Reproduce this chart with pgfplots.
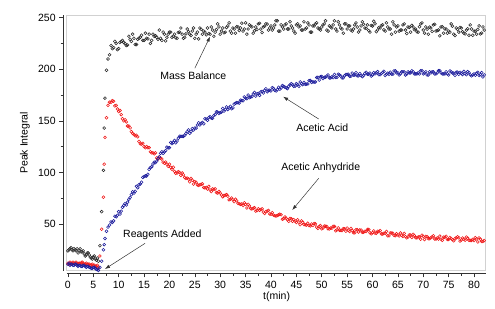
\documentclass[border=0pt]{standalone}
\usepackage{pgfplots}
\pgfplotsset{compat=1.18}
\usepackage{pgfplotstable}
\usepackage{fontspec}
\setmainfont{Liberation Sans}
\usetikzlibrary{arrows.meta}
\definecolor{mbcol}{HTML}{2A2A2A}
\definecolor{aacol}{HTML}{1C1C9C}
\definecolor{ancol}{HTML}{F01818}
\pgfplotstableread{
t mb aa an
0.0 24 11 12
0.4 26 10 13
0.8 25 11 12
1.2 26 10 12
1.6 24 11 13
2.0 22 9 11
2.4 26 10 12
2.8 23 9 13
3.2 21 10 11
3.6 20 8 12
4.0 22 9 11
4.4 18 8 10
4.8 16 7 11
5.2 19 8 10
5.6 15 6 9
6.0 14 5 8
6.3 29 8 19
6.65 62 14 45
7.0 102 25 76
7.15 143 30 108
7.3 172 36 134
7.6 199 43 153
7.9 210 47 165
8.2 214 49 168
8.5 223 52 168
9.0 221 53 169
9.5 225 57 165
10.0 220 62 159
10.5 227 62.5 156
11.0 226 68 150
11.5 223 68.5 149
12.0 232 74 145
12.5 227 78.5 139.5
13.0 230 80 137
13.5 224 86.5 136
14.0 230 88 130
14.5 233 90.5 127.5
15.0 228 96 125
15.5 230 96.5 125
16.0 234 103 124
16.5 228 105.5 119
17.0 232 110 118
17.5 231 111 114
18.0 238 115 115
18.5 228 120 113
19.0 234 120 109
19.5 231 124.5 108
20.0 236 124 108
20.5 231 128 103
21.0 234 131 101
21.5 230 130.5 99.5
22.0 236 135 100
22.5 234 135 99.5
23.0 231 136 95
23.5 239 139.5 94.5
24.0 234 138 91
24.5 237 142.5 92.5
25.0 230 143 91
25.5 236 146 88
26.0 240 146 88
26.5 234 148.5 89
27.0 236 152 85
27.5 240 150.5 84
28.0 234 154 83
28.5 238 152.5 84
29.0 236 156 84
29.5 244 158.5 80
30.0 234 158 80
30.5 240 162 76.5
31.0 236 161 78
31.5 242 161 77
32.0 237 164 74
32.5 240 162.5 73.5
33.0 235 167 74
33.5 241 167.5 70
34.0 240 170 69
34.5 237 169.5 68
35.0 245 172 69
35.5 239 175 69
36.0 242 173 65
36.5 235 176 65.3
37.0 241 174 62.5
37.5 244 176.5 64.7
38.0 239 178 64
38.5 241 177 61.5
39.0 244 181 62
39.5 238 179.5 63.2
40.0 242 179 59.5
40.5 240 181.5 58.6
41.0 247 179 57.7
41.5 237 182.5 58.9
42.0 243 182 59
42.5 239 183.5 55.2
43.0 244 182 55.5
43.5 239 183.5 52.7
44.0 242 186 55
44.5 237 183.5 54.2
45.0 243 186 51.5
45.5 241 183.5 51.8
46.0 238 186 53
46.5 246 187.3 49.5
47.0 240 185.6 49
47.5 243 189 48.5
48.0 236 187.3 50
48.5 242 187.5 50.5
49.0 245 192 47
49.5 239 189.5 47.7
50.0 241 193 45.4
50.5 244 192.2 48
51.0 238 193.4 47.6
51.5 242 191.6 45.3
52.0 240 192.8 46
52.5 247 195 47.6
53.0 237 192.2 44.3
53.5 243 194.4 44
54.0 239 191.6 43.6
54.5 244 193.8 45.3
55.0 239 195 46
55.5 242 193.2 42.8
56.0 237 196.3 43.7
56.5 243 194.5 41.5
57.0 241 193.6 44.4
57.5 238 195.8 44.2
58.0 246 192.9 42
58.5 240 196 42.9
59.0 243 195.2 44.7
59.5 236 196.3 41.6
60.0 242 194.5 41.5
60.5 244 195.6 41.2
61.0 238 197.7 42.9
61.5 240 194.8 43.6
62.0 243 196.9 40.3
62.5 237 194 41
63.0 241 196.1 38.7
63.5 239 197.2 41.4
64.0 246 195.3 41.1
64.5 236 198.4 38.8
65.0 242 196.5 39.5
65.5 238 195.5 41.3
66.0 243 197.5 38
66.5 238 194.5 37.8
67.0 241 197.5 37.5
67.5 236 196.5 39.3
68.0 241 197.5 40
68.5 239 195.5 36.8
69.0 236 196.5 37.5
69.5 244 198.5 35.3
70.0 238 195.5 38
70.5 241 197.5 37.9
71.0 234 194.5 35.8
71.5 240 196.5 36.7
72.0 243 197.5 38.6
72.5 237 195.5 35.5
73.0 238 198.5 35.4
73.5 241 196.5 35.3
74.0 235 195.5 37.2
74.5 239 197.5 38.1
75.0 237 194.5 35
75.5 244 197.4 35.9
76.0 234 196.3 33.8
76.5 240 197.2 36.7
77.0 236 195.1 36.6
77.5 240 196 34.5
78.0 235 197.9 35.4
78.5 238 194.8 37.3
79.0 233 196.7 34.2
79.5 239 193.6 34.1
80.0 237 195.5 34
80.5 234 196.2 35.7
81.0 242 194 36.5
81.5 235 196.7 33.2
82.0 238 194.5 34
0.2 25 12 11
0.6 27 11 12
1.0 24 10 13
1.4 25 11 12
1.8 26 10 12
2.2 24 10 12
2.6 23 9 12
3.0 24 10 12
3.4 19 9 11
3.8 22 9 11
4.2 20 8 11
4.6 17 7 10
5.0 18 8 10
5.4 16 7 9
5.8 17 6 10
8.75 220 51.5 169.5
9.25 227 57.5 164.5
9.75 219 58.5 161.5
10.25 226 59.7 160
10.75 228 66.2 152
11.25 225 69.7 151
11.75 223.5 71.2 145
12.25 229 75.7 143.2
12.75 234 81.2 137.7
13.25 224 81.7 135.5
13.75 229 85.2 134.5
14.25 231 88.7 127.7
14.75 228 95.2 128.2
15.25 235 96.7 124
15.75 229.5 98.2 124
16.25 225 104.7 120
16.75 234 108.2 119
17.25 232.5 109.5 119
17.75 229 113.5 113
18.25 230 118.5 114
18.75 236 118.5 110
19.25 227.5 121.2 110
19.75 234 123.7 106
20.25 236 129 105
20.75 232 129 105
21.25 230.5 128.7 99.2
21.75 235.7 133.2 100.7
22.25 240 135 97.2
22.75 230 135 97.7
23.25 234.3 137.7 94.2
23.75 236.5 141.2 93.7
24.25 232.7 139.7 94.2
24.75 240 141.2 88.7
25.25 234 143 90.5
25.75 229.4 148 87.5
26.25 238.7 147.7 88.5
26.75 237 147.2 85.5
27.25 233.3 151.7 85.5
27.75 234.6 153.2 86.5
28.25 241 152.7 81.5
28.75 232 155.2 83.5
29.25 238.5 158.7 80.5
29.75 241 157.2 81.5
30.25 237 158.5 78.2
30.75 235.3 159.5 77.7
31.25 240.5 163.5 78.5
31.75 245 162.5 73.5
32.25 235 161.7 75.2
32.75 239 166.2 71.7
33.25 241.3 167.7 72.5
33.75 237.5 167.2 69.5
34.25 244.7 169.7 69.5
34.75 239 173.2 70.5
35.25 234 171.5 65.5
35.75 243 172.5 67.5
36.25 241 173.5 64.6
36.75 237.3 177.5 65.9
37.25 238.4 176.2 63.1
37.75 244.5 174.7 63.3
38.25 235.6 178.5 64.7
38.75 241.7 179.5 60.2
39.25 243.8 178.2 62.6
39.75 240 179.7 59.8
40.25 238 182.2 61
40.75 243 179.7 58.1
41.25 247 180.2 58.3
41.75 237 180.7 59.5
42.25 241 184.2 54.6
42.75 243 182.7 56.8
43.25 239 181.2 54.1
43.75 246 184.7 55.3
44.25 240 185.2 52.6
44.75 235 183.7 52.8
45.25 244 185.2 54.1
45.75 242 187.7 49.4
46.25 238 185.1 51.7
46.75 239 185.4 49.2
47.25 245 185.8 50.7
47.75 236 189.1 48.2
48.25 242 187.9 48.7
48.75 244 187.7 50.2
49.25 240 192.2 45.8
49.75 238 192.7 48.5
50.25 243 191.1 46.2
50.75 247 192.3 47.8
51.25 237 194.5 45.4
51.75 241 191.7 46.1
52.25 243 191.9 47.8
52.75 239 192.1 43.4
53.25 246 195.3 46.1
53.75 240 193.5 43.8
54.25 235 191.7 45.4
54.75 244 194.9 43.1
55.25 242 195.1 43.9
55.75 238 193.3 45.7
56.25 239 194.4 41.6
56.75 245 196.6 44.4
57.25 236 193.7 42.3
57.75 242 193.9 44.1
58.25 243.6 194 42
58.75 239.6 197.1 42.8
59.25 237.5 195.3 44.7
59.75 242.5 193.4 40.6
60.25 246.5 196.6 43.3
60.75 236.4 196.7 41
61.25 240.3 194.8 42.7
61.75 242.3 195.9 40.4
62.25 238.2 198 41.1
62.75 245 195.1 42.8
63.25 239 195.2 38.5
63.75 234 195.3 41.2
64.25 243 198.4 38.9
64.75 241 196.5 40.6
65.25 237 194.5 38.4
65.75 238 197.5 39.1
66.25 244 197.5 40.9
66.75 234.7 195.5 36.6
67.25 240.6 196.5 39.4
67.75 242.5 198.5 37.1
68.25 238.4 195.5 38.9
68.75 236.3 195.5 36.6
69.25 241.2 195.5 37.4
69.75 245 198.5 39.1
70.25 235 196.5 35
70.75 238.9 194.5 37.8
71.25 240.8 197.5 35.8
71.75 236.7 197.5 37.6
72.25 243.6 195.5 35.5
72.75 237.5 196.5 36.4
73.25 232.4 198.5 38.3
73.75 241.3 195.5 34.2
74.25 239.2 195.5 37.1
74.75 235 195.5 35
75.25 236 198.4 36.9
75.75 241.8 196.3 34.8
76.25 232.7 194.2 35.7
76.75 238.6 197.1 37.6
77.25 240.5 197 33.5
77.75 236.4 194.9 36.4
78.25 234.3 195.8 34.3
78.75 239.2 197.7 36.2
79.25 243 194.6 34.1
79.75 233 194.5 35
80.25 236.8 194.3 36.8
80.75 238.6 197.1 32.6
81.25 234.3 194.8 35.3
81.75 241 192.6 33.1
}\data
\begin{document}
\begin{tikzpicture}[font=\fontsize{10.5bp}{12bp}\selectfont]
\begin{axis}[
  scale only axis, width=419bp, height=255.7bp,
  xmin=-0.24, xmax=82.3, ymin=4.75, ymax=252.6,
  axis x line*=bottom, axis y line*=left,
  axis x line shift=2.6bp, axis y line shift=3.5bp,
  x axis line style={-, black!80}, y axis line style={-, black!80},
  xtick distance=5, ytick={50,100,150,200,250},
  minor x tick num=1, minor y tick num=1,
  tick align=outside, major tick length=4bp, minor tick length=2.5bp,
  every tick/.style={black!80, line width=0.5pt},
  /pgf/number format/assume math mode=true,
  ticklabel style={font=\fontsize{10.5bp}{12bp}\selectfont},
  xlabel={t(min)}, ylabel={Peak Integral},
  xlabel style={at={(axis description cs:0.501,-0.1017)}, anchor=center},
  ylabel style={at={(axis description cs:-0.0995,0.5)}, anchor=center},
  clip=false,
]
\draw[black!18, line width=0.8pt] (rel axis cs:0,0) rectangle (rel axis cs:1,1);
\addplot[only marks, mark=o, mark size=1.45pt, mbcol, mark options={line width=0.55pt}] table[x=t, y=mb] {\data};
\addplot[only marks, mark=o, mark size=1.45pt, ancol, mark options={line width=0.55pt}] table[x=t, y=an] {\data};
\addplot[only marks, mark=o, mark size=1.45pt, aacol, mark options={line width=0.55pt}] table[x=t, y=aa] {\data};
\node[anchor=center] at (axis cs:24.7,193.5) {Mass Balance};
\draw[-{Latex[length=5bp,width=3.5bp]}, black!80, line width=0.5pt] (axis cs:25,201) -- (axis cs:28,231.6);
\node[anchor=center] at (axis cs:50.1,143.4) {Acetic Acid};
\draw[-{Latex[length=5bp,width=3.5bp]}, black!80, line width=0.5pt] (axis cs:49.4,151.8) -- (axis cs:42.4,173.4);
\node[anchor=center] at (axis cs:49.8,104.6) {Acetic Anhydride};
\draw[-{Latex[length=5bp,width=3.5bp]}, black!80, line width=0.5pt] (axis cs:49.4,94.3) -- (axis cs:44.2,63.6);
\node[anchor=center] at (axis cs:18.6,39.4) {Reagents Added};
\draw[-{Latex[length=5bp,width=3.5bp]}, black!80, line width=0.5pt] (axis cs:15.2,31.3) -- (axis cs:7.3,6.4);
\end{axis}
\pgfresetboundingbox
\path[use as bounding box] ([xshift=-66.7bp,yshift=-38.3bp]current axis.south west) rectangle ++(495bp,309bp);
\end{tikzpicture}
\end{document}
